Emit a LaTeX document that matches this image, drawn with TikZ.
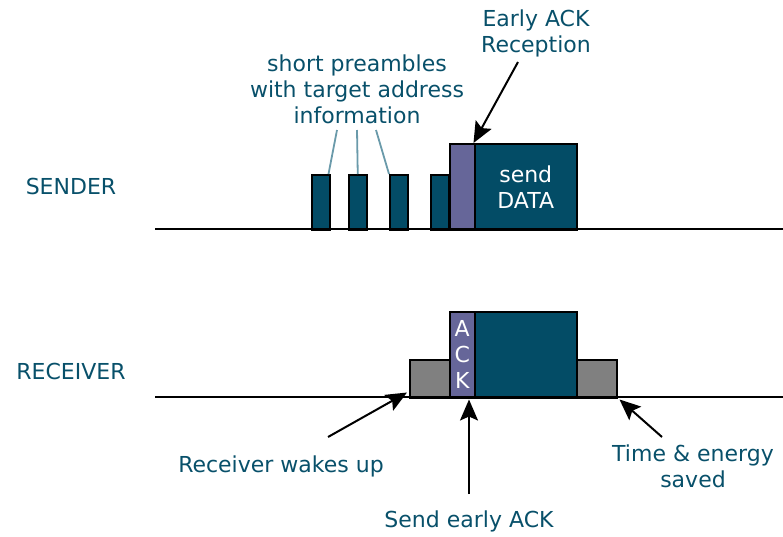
\documentclass[tikz,border=0pt]{standalone}
\usepackage{fontspec}
\setmainfont{DejaVu Sans}
\usetikzlibrary{arrows.meta}
\definecolor{txt}{RGB}{8,80,106}
\definecolor{dataC}{RGB}{3,76,102}
\definecolor{ackC}{RGB}{102,102,153}
\definecolor{grayC}{RGB}{128,128,128}
\definecolor{leadC}{RGB}{106,154,170}
\tikzset{
  lbl/.style={text=txt, font=\fontsize{22}{26}\selectfont, align=center, inner sep=0pt},
  blk/.style={draw=black, line width=1.5pt, inner sep=0pt, anchor=north west},
  pre/.style={blk, fill=dataC, minimum width=18pt, minimum height=55pt},
  ackbox/.style={blk, fill=ackC, minimum width=25pt, minimum height=86pt},
  databox/.style={blk, fill=dataC, minimum width=102pt, minimum height=86pt},
  graybox/.style={blk, fill=grayC, minimum width=40pt, minimum height=38pt},
  tline/.style={line width=1.5pt},
  lead/.style={draw=leadC, line width=1.8pt},
  arr/.style={line width=2pt, -{Stealth[length=21pt,width=18pt,inset=4pt]}}
}
\begin{document}
\begin{tikzpicture}[x=1pt,y=-1pt]
\useasboundingbox (0,0) rectangle (783,536);
% labels
\node[lbl] (sender) at (71,186) {SENDER};
\node[lbl] (receiver) at (71,371) {RECEIVER};
% time lines
\coordinate (s0) at (155,229); \coordinate (s1) at (783,229);
\coordinate (r0) at (155,397); \coordinate (r1) at (783,397);
% sender blocks
\node[pre] (p1) at (311,174) {};
\node[pre] (p2) at (348,174) {};
\node[pre] (p3) at (389,174) {};
\node[pre] (p4) at (430,174) {};
\node[ackbox] (sack) at (449,143) {};
\node[databox, text=white, font=\fontsize{22}{26}\selectfont, align=center] (sdata) at (474,143) {send\\DATA};
% receiver blocks
\node[graybox] (g1) at (409,359) {};
\node[graybox] (g2) at (576,359) {};
\node[ackbox, text=white, font=\fontsize{22}{26}\selectfont, align=center] (rack) at (449,311) {A\\C\\K};
\node[databox] (rdata) at (474,311) {};
\draw[tline] (s0) -- (s1);
\draw[tline] (r0) -- (r1);
% annotations
\node[lbl] (short) at (357,89) {short preambles\\with target address\\information};
\coordinate (l1) at (337,130); \coordinate (l2) at (357,130); \coordinate (l3) at (376,130);
\draw[lead] (l1) -- ([xshift=-2pt]p1.north east);
\draw[lead] (l2) -- (p2.north);
\draw[lead] (l3) -- (p3.north west);
\node[lbl] (early) at (536,33) {Early ACK\\Reception};
\coordinate (ea) at (518,62);
\draw[arr] (ea) -- ([xshift=-2pt]sack.north east);
\node[lbl] (wake) at (281,466) {Receiver wakes up};
\coordinate (wa) at (328,437);
\draw[arr] (wa) -- ([xshift=-2pt,yshift=6pt]g1.south west);
\node[lbl] (sendack) at (469,521) {Send early ACK};
\coordinate (sa) at (469,494);
\draw[arr] (sa) -- ([yshift=-1pt]sa |- rack.south);
\node[lbl] (saved) at (693,466) {Time \& energy\\saved};
\coordinate (ta) at (662,437);
\draw[arr] (ta) -- ([xshift=2pt,yshift=-1pt]g2.south east);
\end{tikzpicture}
\end{document}
